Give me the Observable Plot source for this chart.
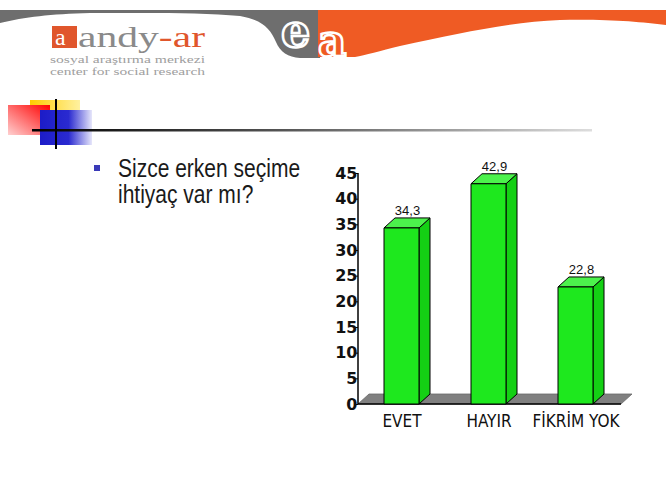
<!DOCTYPE html>
<html>
<head>
<meta charset="utf-8">
<script src="https://cdn.jsdelivr.net/npm/d3@7"></script>
<script src="https://cdn.jsdelivr.net/npm/@observablehq/plot@0.6"></script>
<style>
  html, body { margin: 0; padding: 0; background: #fff; }
  #page { position: relative; width: 666px; height: 500px; overflow: hidden; background: #fff; }
  #deco { position: absolute; left: 0; top: 0; }
  #chart { position: absolute; left: 0; top: 0; }
  #question { position: absolute; left: 118px; top: 154.7px; margin: 0; font-family: "Liberation Sans", Arial, sans-serif; font-size: 21px; line-height: 22px; color: #1a1a1a; transform: scale(1, 1.2); transform-origin: 0 0; white-space: nowrap; }
  #bullet { position: absolute; left: 94px; top: 165px; width: 6px; height: 6px; background: #3a3ab8; }
</style>
</head>
<body>
<div id="page">
  <svg id="deco" width="666" height="500" viewBox="0 0 666 500">
    <defs>
      <linearGradient id="lineGrad" x1="0" x2="1" y1="0" y2="0">
        <stop offset="0" stop-color="#000"/>
        <stop offset="0.45" stop-color="#555"/>
        <stop offset="1" stop-color="#ddd"/>
      </linearGradient>
      <linearGradient id="redGrad" x1="1" y1="0" x2="0" y2="1">
        <stop offset="0" stop-color="#ff0000"/>
        <stop offset="1" stop-color="#ffd0d0"/>
      </linearGradient>
      <linearGradient id="blueGrad" x1="0" x2="1" y1="0" y2="0">
        <stop offset="0" stop-color="#1c1cc8"/>
        <stop offset="0.55" stop-color="#2a2ad0"/>
        <stop offset="1" stop-color="#e6e6fa"/>
      </linearGradient>
      <linearGradient id="yellowGrad" x1="0" x2="1" y1="0" y2="0">
        <stop offset="0" stop-color="#ffcc00"/>
        <stop offset="1" stop-color="#fff1a0"/>
      </linearGradient>
    </defs>
    <!-- header band -->
    <path d="M0,10 L320,10 L320,58 L300,58 C288,57 280,52 276,42 C270,28 262,20 240,16 C200,12 140,13 90,13 C50,14 25,17 0,23 Z" fill="#6e6e6e"/>
    <path d="M318,10 L666,10 L666,25 C640,22 610,19 560,20 C510,22 460,33 400,46 C380,51 365,55 355,57 L318,57 Z" fill="#ef5b24"/>
    <text x="281" y="47" font-family="DejaVu Serif" font-weight="bold" font-size="46" fill="#6e6e6e" stroke="#fff" stroke-width="2.5">e</text>
    <text x="318" y="56" font-family="DejaVu Serif" font-weight="bold" font-size="44" fill="#ef5b24" stroke="#fff" stroke-width="2.5">a</text>
    <!-- logo -->
    <rect x="52" y="26" width="25" height="22" fill="#e0562c"/>
    <text x="55" y="45" font-family="Liberation Serif" font-size="24" fill="#fff">a</text>
    <text x="78" y="47" font-family="Liberation Serif" font-size="29" textLength="127" lengthAdjust="spacingAndGlyphs"><tspan fill="#8a8a8a">andy</tspan><tspan fill="#e0562c">-ar</tspan></text>
    <text x="50" y="63" font-family="Liberation Serif" font-size="11" fill="#a0a0a0" textLength="155" lengthAdjust="spacingAndGlyphs">sosyal araştırma merkezi</text>
    <text x="50" y="75" font-family="Liberation Serif" font-size="11" fill="#a0a0a0" textLength="155" lengthAdjust="spacingAndGlyphs">center for social research</text>
    <!-- slide ornament -->
    <rect x="30" y="100" width="50" height="25" fill="url(#yellowGrad)"/>
    <rect x="8" y="105" width="42" height="30" fill="url(#redGrad)"/>
    <rect x="40" y="110" width="52" height="35" fill="url(#blueGrad)"/>
    <rect x="32" y="129" width="560" height="2.5" fill="url(#lineGrad)"/>
    <rect x="55" y="99" width="2" height="50" fill="#000"/>
  </svg>
  <div id="bullet"></div>
  <p id="question">Sizce erken seçime<br>ihtiyaç var mı?</p>
  <div id="chart"></div>
</div>
<script>
// ---- data ----
const categories = ["EVET", "HAYIR", "FİKRİM YOK"];
const values = [34.3, 42.9, 22.8];
const valueLabels = ["34,3", "42,9", "22,8"];
const yTicks = [0, 5, 10, 15, 20, 25, 30, 35, 40, 45];

const data = categories.map((c, i) => ({cat: c, value: values[i], label: valueLabels[i]}));

const DX = 11, DY = 10;
const FRONT = "#1ee81e", SIDE = "#14d014", TOP = "#4cf24c";

function floorRender(index, scales, vals, dims) {
  const g = d3.create("svg:g");
  const y0 = scales.y(0);
  const xl = dims.marginLeft, xr = dims.width - dims.marginRight - DX;
  g.append("path")
    .attr("d", `M${xl},${y0}L${xl + DX},${y0 - DY}L${xr + DX},${y0 - DY}L${xr},${y0}Z`)
    .attr("fill", "#808080").attr("stroke", "#6a6a6a").attr("stroke-width", 0.8);
  g.append("line").attr("x1", xl).attr("x2", xr).attr("y1", y0).attr("y2", y0)
    .attr("stroke", "#000").attr("stroke-width", 1.5);
  g.append("line").attr("x1", xl).attr("x2", xl)
    .attr("y1", dims.marginTop).attr("y2", y0)
    .attr("stroke", "#000").attr("stroke-width", 1.5);
  return g.node();
}

function bars3dRender(index, scales, vals, dims) {
  const g = d3.create("svg:g").attr("stroke", "#000").attr("stroke-width", 1).attr("stroke-linejoin", "round");
  const bw = scales.x.bandwidth();
  for (const i of index) {
    const d = data[i];
    const x0 = scales.x(d.cat), x1 = x0 + bw;
    const yb = scales.y(0), yt = scales.y(d.value);
    g.append("path").attr("fill", SIDE)
      .attr("d", `M${x1},${yb}L${x1 + DX},${yb - DY}L${x1 + DX},${yt - DY}L${x1},${yt}Z`);
    g.append("path").attr("fill", TOP)
      .attr("d", `M${x0},${yt}L${x0 + DX},${yt - DY}L${x1 + DX},${yt - DY}L${x1},${yt}Z`);
    g.append("rect").attr("fill", FRONT)
      .attr("x", x0).attr("y", yt).attr("width", bw).attr("height", yb - yt);
  }
  return g.node();
}

const chart = Plot.plot({
  width: 666,
  height: 500,
  marginTop: 173,
  marginBottom: 96,
  marginLeft: 358,
  marginRight: 34,
  style: {background: "transparent", overflow: "visible", fontFamily: "Liberation Sans, Arial, sans-serif"},
  x: {domain: categories, paddingInner: 0.6, paddingOuter: 0.37, align: 0.4},
  y: {domain: [0, 45]},
  marks: [
    Plot.ruleY([0], {render: floorRender}),
    Plot.barY(data, {x: "cat", y: "value", render: bars3dRender}),
    Plot.text(data, {x: "cat", y: "value", text: "label", dx: DX / 2, dy: -DY - 3, lineAnchor: "bottom", fontSize: 13, fill: "#111"}),
    Plot.axisY({ticks: yTicks, tickSize: 4, tickPadding: -3, fontSize: 16, fontWeight: "bold", fontFamily: "DejaVu Sans", label: null, stroke: "#000", fill: "#111"}),
    Plot.axisX({tickSize: 0, tickPadding: 10, fontSize: 17, fontFamily: "Liberation Sans Narrow, DejaVu Sans Condensed, sans-serif", label: null, fill: "#111"})
  ]
});
document.getElementById("chart").appendChild(chart);
</script>
</body>
</html>
